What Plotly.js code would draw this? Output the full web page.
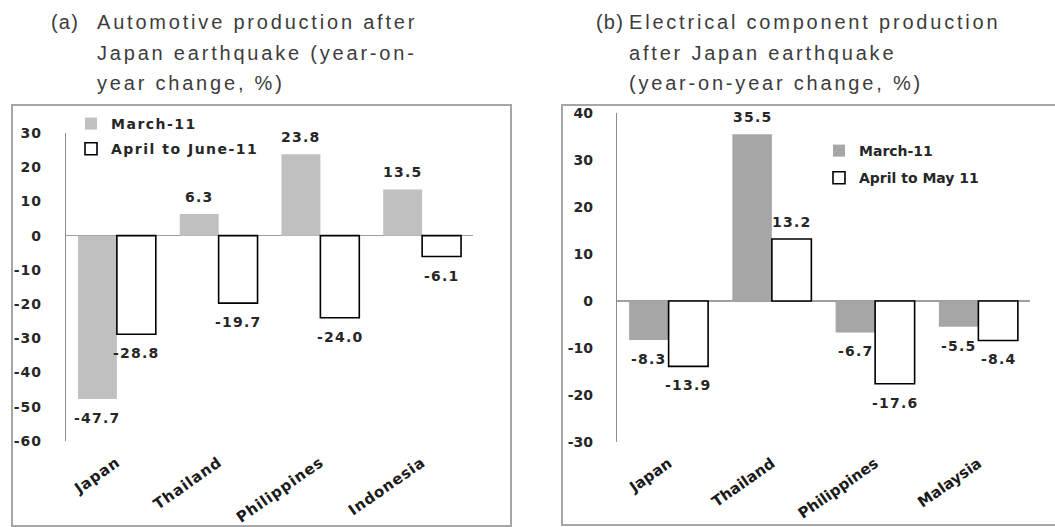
<!DOCTYPE html>
<html>
<head>
<meta charset="utf-8">
<script src="https://cdn.plot.ly/plotly-3.0.1.min.js"></script>
<style>
  html, body { margin: 0; padding: 0; background: #fff; }
  #chart { width: 1055px; height: 527px; }
  .annotation-text { letter-spacing: 1.2px; }
  .legendtext { letter-spacing: 1.5px; }
  .ytick text { letter-spacing: 1px; }
  .xtick text { letter-spacing: 0.8px; }
</style>
</head>
<body>
<div id="chart"></div>
<script>
// ---- Data ----
const autoCategories = ['Japan', 'Thailand', 'Philippines', 'Indonesia'];
const autoMarch11 = [-47.7, 6.3, 23.8, 13.5];
const autoAprilToJune11 = [-28.8, -19.7, -24.0, -6.1];
const autoTicks = [30, 20, 10, 0, -10, -20, -30, -40, -50, -60];

const elecCategories = ['Japan', 'Thailand', 'Philippines', 'Malaysia'];
const elecMarch11 = [-8.3, 35.5, -6.7, -5.5];
const elecAprilToMay11 = [-13.9, 13.2, -17.6, -8.4];
const elecTicks = [40, 30, 20, 10, 0, -10, -20, -30];

const seriesNames = {
  march: 'March-11',
  aprJun: 'April to June-11',
  aprMay: 'April to May 11'
};

const titleA = ['Automotive production after', 'Japan earthquake (year-on-', 'year change, %)'];
const titleB = ['Electrical component production', 'after Japan earthquake', '(year-on-year change, %)'];

// ---- Helpers (pixel -> paper) ----
const W = 1055, H = 527;
const fx = p => p / W;
const fy = p => 1 - p / H;

const boldFont = 'DejaVu Sans';
const labelColor = '#262626';
const fmt = v => v.toFixed(1);
const BARGAP = 0.235;

function barTrace(cats, vals, name, xa, ya, legend, group, color, outline) {
  return {
    type: 'bar', x: cats, y: vals, name: name,
    xaxis: xa, yaxis: ya, legend: legend, legendgroup: group,
    marker: { color: color, line: outline ? { width: 1.6, color: '#000000' } : { width: 0 } },
    hoverinfo: 'skip'
  };
}

const traces = [
  barTrace(autoCategories, autoMarch11, seriesNames.march, 'x', 'y', 'legend', 'a1', '#c0c0c0', false),
  barTrace(autoCategories, autoAprilToJune11, seriesNames.aprJun, 'x', 'y', 'legend', 'a2', '#ffffff', true),
  barTrace(elecCategories, elecMarch11, seriesNames.march, 'x2', 'y2', 'legend2', 'b1', '#a6a6a6', false),
  barTrace(elecCategories, elecAprilToMay11, seriesNames.aprMay, 'x2', 'y2', 'legend2', 'b2', '#ffffff', true)
];

const tickFont = { family: boldFont, size: 14, color: labelColor, weight: 'bold' };
const xTickFont = { family: boldFont, size: 15, color: '#1a1a1a', weight: 'bold' };

function yAxis(domainTop, domainBottom, range, ticks, anchor) {
  return {
    domain: [fy(domainBottom), fy(domainTop)],
    range: range, anchor: anchor,
    tickmode: 'array', tickvals: ticks, ticktext: ticks.map(String),
    ticks: 'outside', ticklen: 20, tickcolor: 'rgba(0,0,0,0)',
    showgrid: false, showline: true, linecolor: '#8c8c8c', linewidth: 1.2,
    zeroline: true, zerolinecolor: '#a0a0a0', zerolinewidth: 1.6,
    tickfont: tickFont, fixedrange: true
  };
}
function xAxis(left, right, anchor) {
  return {
    domain: [fx(left), fx(right)], anchor: anchor,
    type: 'category', tickangle: -35,
    ticks: 'outside', ticklen: 6, tickcolor: 'rgba(0,0,0,0)',
    showgrid: false, showline: false, zeroline: false,
    tickfont: xTickFont, fixedrange: true
  };
}

// ---- Titles (first annotations) ----
const titleFont = { family: 'Liberation Sans', size: 20, color: '#3c3c3c' };
const annotations = [];
const wideIdx = [];
function addTitle(tag, tagX, lines, lineX) {
  const ys = [22, 53, 83];
  annotations.push({ xref: 'paper', yref: 'paper', x: fx(tagX), y: fy(ys[0]),
    xanchor: 'left', yanchor: 'middle', align: 'left', text: tag, showarrow: false,
    borderpad: 0, font: titleFont });
  lines.forEach((t, i) => {
    wideIdx.push(annotations.length);
    annotations.push({ xref: 'paper', yref: 'paper', x: fx(lineX), y: fy(ys[i]),
      xanchor: 'left', yanchor: 'middle', align: 'left', text: t, showarrow: false,
      borderpad: 0, font: titleFont });
  });
}
addTitle('(a)', 50, titleA, 96);
addTitle('(b)', 595, titleB, 628);

// ---- Data labels placed through the axes' own scales ----
const labelFont = { family: boldFont, size: 14, color: labelColor, weight: 'bold' };
function addLabels(vals, k, xref, yref) {
  const half = (1 - BARGAP) / 2;          // width of one bar in category units
  vals.forEach((v, i) => annotations.push({
    xref: xref, yref: yref,
    x: i + (k - 0.5) * half, y: v,
    xanchor: 'center', yanchor: 'middle',
    yshift: v >= 0 ? 17 : -19,
    text: fmt(v), showarrow: false, font: labelFont
  }));
}
addLabels(autoMarch11, 0, 'x', 'y');
addLabels(autoAprilToJune11, 1, 'x', 'y');
addLabels(elecMarch11, 0, 'x2', 'y2');
addLabels(elecAprilToMay11, 1, 'x2', 'y2');

// wider tracking for the title lines only
const st = document.createElement('style');
st.textContent = wideIdx.map(i => '.annotation[data-index="' + i + '"] text').join(',') +
  '{letter-spacing:2.8px;}';
document.head.appendChild(st);

const legendFont = { family: boldFont, size: 14, color: labelColor, weight: 'bold' };

const layout = {
  width: W, height: H,
  margin: { l: 0, r: 0, t: 0, b: 0 },
  paper_bgcolor: '#ffffff', plot_bgcolor: 'rgba(0,0,0,0)',
  barmode: 'group', bargap: BARGAP, bargroupgap: 0,
  showlegend: true,
  xaxis: xAxis(66, 473, 'y'),
  yaxis: yAxis(133, 441, [-60, 30], autoTicks, 'x'),
  xaxis2: xAxis(617, 1030, 'y2'),
  yaxis2: yAxis(113, 442, [-30, 40], elecTicks, 'x2'),
  legend: { x: fx(71), y: fy(108), xanchor: 'left', yanchor: 'top',
    bgcolor: 'rgba(0,0,0,0)', font: legendFont, tracegroupgap: 4, itemwidth: 30 },
  legend2: { x: fx(819), y: fy(135), xanchor: 'left', yanchor: 'top',
    bgcolor: 'rgba(0,0,0,0)', font: legendFont, tracegroupgap: 6, itemwidth: 30 },
  shapes: [
    { type: 'rect', xref: 'paper', yref: 'paper', x0: fx(12), x1: fx(511), y0: fy(526), y1: fy(105),
      line: { color: '#a6a6a6', width: 2 }, fillcolor: 'rgba(0,0,0,0)', layer: 'below' },
    { type: 'rect', xref: 'paper', yref: 'paper', x0: fx(562), x1: fx(1070), y0: fy(525), y1: fy(105),
      line: { color: '#a6a6a6', width: 2 }, fillcolor: 'rgba(0,0,0,0)', layer: 'below' }
  ],
  annotations: annotations
};

Plotly.newPlot('chart', traces, layout, { displayModeBar: false, staticPlot: true });
</script>
</body>
</html>
